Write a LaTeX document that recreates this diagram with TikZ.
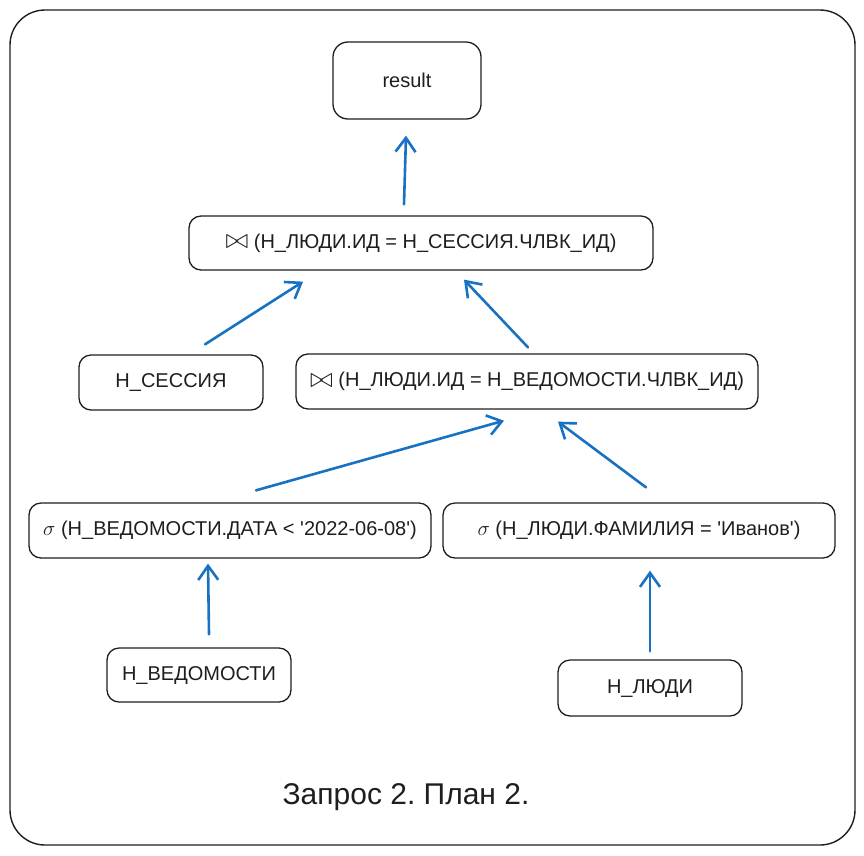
\documentclass[tikz,border=0pt]{standalone}
\usepackage{graphicx}
\usepackage{fontspec}
\setmainfont{Liberation Sans}
\usetikzlibrary{arrows.meta}
\definecolor{inkc}{HTML}{1E1E1E}
\definecolor{arrc}{HTML}{1971C2}
\newcommand{\bwt}{\raisebox{-0.5pt}{\scalebox{1.35}{$\bowtie$}}}
\newcommand{\q}{\textquotesingle}
\frenchspacing
\tikzset{
  box/.style={draw=inkc, line width=1.3pt, rounded corners=12pt, inner sep=0pt, font=\fontsize{20}{24}\selectfont, text=inkc},
  arr/.style={draw=arrc, line width=2.6pt, line cap=round, line join=round, -{Straight Barb[length=14pt,width=20pt,line width=2.6pt]}},
}
\begin{document}
\begin{tikzpicture}[x=1pt,y=-1pt]
\useasboundingbox (0,0) rectangle (864,855);
\draw[draw=inkc, line width=1.4pt, rounded corners=35pt] (10,10) rectangle (855,845);
\node[box, rounded corners=15pt, minimum width=148pt, minimum height=77pt] (res) at (407,80.5) {result};
\node[box, minimum width=464pt, minimum height=54pt] (j1) at (421,243) {\bwt{} (Н\_ЛЮДИ.ИД = Н\_СЕССИЯ.ЧЛВК\_ИД)};
\node[box, minimum width=184pt, minimum height=55pt] (sess) at (171,382.5) {Н\_СЕССИЯ};
\node[box, minimum width=462pt, minimum height=55pt] (j2) at (527,381.5) {\bwt{} (Н\_ЛЮДИ.ИД = Н\_ВЕДОМОСТИ.ЧЛВК\_ИД)};
\node[box, minimum width=402pt, minimum height=55pt] (s1) at (230,530.5) {$\sigma$ (Н\_ВЕДОМОСТИ.ДАТА < \q2022-06-08\q)};
\node[box, minimum width=392pt, minimum height=55pt] (s2) at (639,530.5) {$\sigma$ (Н\_ЛЮДИ.ФАМИЛИЯ = \q Иванов\q)};
\node[box, minimum width=184pt, minimum height=54pt] (ved) at (199,675) {Н\_ВЕДОМОСТИ};
\node[box, minimum width=184pt, minimum height=56pt] (ludi) at (650,688) {Н\_ЛЮДИ};
\node[font=\fontsize{30}{34}\selectfont, text=inkc] (title) at (406,797) {Запрос 2. План 2.};
\draw[arr] ([xshift=-17pt,yshift=11pt]j1.north) -- ([xshift=-1pt,yshift=-16pt]res.south);
\draw[arr] ([xshift=34pt,yshift=10pt]sess.north) -- ([xshift=-118pt,yshift=-11pt]j1.south);
\draw[arr] ([xshift=1pt,yshift=6pt]j2.north) -- ([xshift=43pt,yshift=-9pt]j1.south);
\draw[arr] ([xshift=26pt,yshift=12pt]s1.north) -- ([xshift=-23pt,yshift=-11pt]j2.south);
\draw[arr] ([xshift=7pt,yshift=15pt]s2.north) -- ([xshift=31pt,yshift=-12pt]j2.south);
\draw[arr] ([xshift=10pt,yshift=13pt]ved.north) -- ([xshift=-22pt,yshift=-5pt]s1.south);
\draw[arr] ([yshift=8pt]ludi.north) -- ([xshift=11pt,yshift=-12pt]s2.south);
\end{tikzpicture}
\end{document}
